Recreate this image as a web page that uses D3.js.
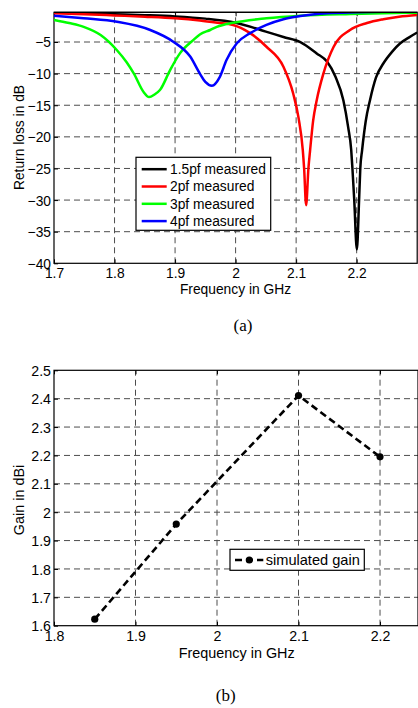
<!DOCTYPE html>
<html>
<head>
<meta charset="utf-8">
<script src="https://cdn.jsdelivr.net/npm/d3@7"></script>
<style>
  html, body { margin: 0; padding: 0; background: #fff; }
  svg { display: block; }
  text { font-family: "Liberation Sans", Arial, sans-serif; fill: #000; }
  .cap { font-family: "Liberation Serif", "Times New Roman", serif; }
</style>
</head>
<body>
<svg id="fig" width="418" height="708"></svg>
<script>
// ---------- (a) return loss vs frequency ----------
const rlTicksX = [1.7, 1.8, 1.9, 2.0, 2.1, 2.2];
const rlTicksY = [-40, -35, -30, -25, -20, -15, -10, -5];

const f15 = [1.70, 1.75, 1.80, 1.85, 1.90, 1.95, 2.00, 2.05, 2.079, 2.107, 2.134, 2.151, 2.165, 2.178, 2.186, 2.191, 2.193, 2.196, 2.2003, 2.204, 2.206, 2.209, 2.215, 2.222, 2.232, 2.244, 2.258, 2.272, 2.286, 2.30];
const rl15 = [-0.3, -0.45, -0.6, -0.75, -0.95, -1.3, -1.95, -3.35, -4.2, -5.0, -6.8, -8.1, -10.5, -14.2, -18.5, -22.1, -25.0, -30.0, -37.8, -30.0, -25.0, -22.1, -17.5, -14.2, -10.6, -8.4, -6.6, -5.2, -4.3, -3.5];

const f2 = [1.70, 1.75, 1.80, 1.85, 1.90, 1.941, 1.97, 1.996, 2.024, 2.051, 2.079, 2.095, 2.104, 2.111, 2.1132, 2.1165, 2.1203, 2.1231, 2.128, 2.134, 2.145, 2.162, 2.189, 2.217, 2.244, 2.27, 2.30];
const rl2 = [-0.45, -0.6, -0.8, -1.0, -1.25, -1.6, -1.95, -2.3, -3.6, -5.75, -8.9, -13.1, -17.0, -22.1, -25.0, -30.8, -25.0, -22.1, -17.5, -14.2, -10.0, -5.75, -3.1, -2.0, -1.4, -1.0, -0.73];

const f3 = [1.70, 1.725, 1.749, 1.777, 1.804, 1.82, 1.832, 1.848, 1.857, 1.866, 1.875, 1.892, 1.908, 1.930, 1.941, 1.958, 1.969, 1.996, 2.051, 2.107, 2.19, 2.30];
const rl3 = [-1.5, -2.0, -2.6, -3.9, -6.3, -8.2, -10.0, -12.9, -13.7, -13.3, -12.6, -9.4, -6.8, -4.7, -3.8, -3.1, -2.6, -1.95, -1.25, -0.84, -0.57, -0.36];

const f4 = [1.70, 1.749, 1.804, 1.859, 1.897, 1.925, 1.941, 1.95, 1.961, 1.974, 1.985, 2.002, 2.024, 2.051, 2.079, 2.107, 2.151, 2.20, 2.25, 2.30];
const rl4 = [-0.84, -1.25, -1.8, -3.1, -4.95, -7.3, -10.0, -11.3, -11.9, -10.5, -7.85, -5.2, -3.6, -2.3, -1.4, -0.9, -0.46, -0.3, -0.2, -0.15];

const rlNames = ["1.5pf measured", "2pf measured", "3pf measured", "4pf measured"];
const rlColors = ["#000000", "#ff0000", "#00ff00", "#0000ff"];

// ---------- (b) gain vs frequency ----------
const gainTicksX = [1.8, 1.9, 2.0, 2.1, 2.2];
const gainTicksY = [1.6, 1.7, 1.8, 1.9, 2.0, 2.1, 2.2, 2.3, 2.4, 2.5];
const gainFreq = [1.85, 1.95, 2.10, 2.20];
const gainVal = [1.623, 1.958, 2.411, 2.195];
const gainName = "simulated gain";

const svg = d3.select("#fig");
const fmt = d => d3.format("")(+d.toFixed(2));

function frame(g, x, y, xt, yt, fs) {
  const [x0, x1] = x.range();
  const [y0, y1] = y.range();
  const clipW = Math.min(x1, 418) - x0;
  // grid
  const grid = g.append("g").attr("stroke", "#4d4d4d").attr("stroke-width", 1).attr("stroke-dasharray", "6,4");
  xt.filter(v => x(v) > x0 + 1 && x(v) < x1 - 1).forEach(v =>
    grid.append("line").attr("x1", x(v)).attr("x2", x(v)).attr("y1", y0).attr("y2", y1));
  yt.filter(v => y(v) < y0 - 1 && y(v) > y1 + 1).forEach(v =>
    grid.append("line").attr("x1", x0).attr("x2", x1).attr("y1", y(v)).attr("y2", y(v)));

  // axes with inward ticks
  const ax = g.append("g").attr("transform", `translate(0,${y0})`)
    .call(d3.axisBottom(x).tickValues(xt).tickSize(-4).tickPadding(5).tickFormat(fmt));
  const ay = g.append("g").attr("transform", `translate(${x0},0)`)
    .call(d3.axisLeft(y).tickValues(yt).tickSize(-4).tickPadding(3).tickFormat(fmt));
  g.append("g").attr("transform", `translate(0,${y1})`)
    .call(d3.axisTop(x).tickValues(xt).tickSize(-4).tickFormat(""));
  [ax, ay].forEach(a => {
    a.select(".domain").remove();
    a.selectAll("line").attr("stroke", "#000");
    a.selectAll("text").style("font-size", fs + "px").attr("fill", "#000");
  });
  g.selectAll(".domain").remove();
  ax.selectAll("text").attr("dy", "0.72em");
  ay.selectAll("text").attr("dy", "0.36em");

  // box
  g.append("rect").attr("x", x0).attr("y", y1).attr("width", x1 - x0).attr("height", y0 - y1)
    .attr("fill", "none").attr("stroke", "#000").attr("stroke-width", 1.2);
  return clipW;
}

// ===== panel (a) =====
{
  const x = d3.scaleLinear().domain([1.7, 2.3]).range([54, 417.2]);
  const y = d3.scaleLinear().domain([-40, -0.3]).range([263.3, 12.3]);
  const g = svg.append("g");
  g.append("clipPath").attr("id", "clipA").append("rect")
    .attr("x", 54).attr("y", 12.3).attr("width", 363.2).attr("height", 251);

  frame(g, x, y, rlTicksX, rlTicksY, 13.8);

  const series = [[f15, rl15], [f2, rl2], [f3, rl3], [f4, rl4]];
  const line = d3.line().x(d => x(d[0])).y(d => y(d[1])).curve(d3.curveMonotoneX);
  const curves = g.append("g").attr("clip-path", "url(#clipA)");
  series.forEach(([fx, vy], i) => {
    curves.append("path").datum(d3.zip(fx, vy))
      .attr("d", line).attr("fill", "none")
      .attr("stroke", rlColors[i]).attr("stroke-width", 2.5).attr("stroke-linejoin", "round");
  });
  // redraw top edge over curves
  g.append("line").attr("x1", 54).attr("x2", 417.2).attr("y1", 12.3).attr("y2", 12.3)
    .attr("stroke", "#000").attr("stroke-width", 1.2);

  // legend
  const lg = g.append("g");
  lg.append("rect").attr("x", 136).attr("y", 157.3).attr("width", 134.7).attr("height", 73)
    .attr("fill", "#fff").attr("stroke", "#000").attr("stroke-width", 1.2);
  rlNames.forEach((n, i) => {
    const yy = 169.2 + i * 17.3;
    lg.append("line").attr("x1", 141.7).attr("x2", 166.7).attr("y1", yy).attr("y2", yy)
      .attr("stroke", rlColors[i]).attr("stroke-width", 2.5);
    lg.append("text").attr("x", 170).attr("y", yy).attr("dy", "0.36em")
      .style("font-size", "13.8px").text(n);
  });

  g.append("text").attr("x", 235.5).attr("y", 293.5).attr("text-anchor", "middle")
    .style("font-size", "13.8px").text("Frequency in GHz");
  g.append("text").attr("transform", "translate(24,137.5) rotate(-90)").attr("text-anchor", "middle")
    .style("font-size", "13.8px").text("Return loss in dB");
  g.append("text").attr("class", "cap").attr("x", 243).attr("y", 331).attr("text-anchor", "middle")
    .style("font-size", "17px").text("(a)");
}

// ===== panel (b) =====
{
  const x = d3.scaleLinear().domain([1.8, 2.2466]).range([54, 418]);
  const y = d3.scaleLinear().domain([1.6, 2.5]).range([625.7, 370.3]);
  const g = svg.append("g");
  frame(g, x, y, gainTicksX, gainTicksY, 14.2);

  const pts = d3.zip(gainFreq, gainVal);
  g.append("path").datum(pts)
    .attr("d", d3.line().x(d => x(d[0])).y(d => y(d[1])))
    .attr("fill", "none").attr("stroke", "#000").attr("stroke-width", 2.6)
    .attr("stroke-dasharray", "7,4");
  g.selectAll("circle.pt").data(pts).join("circle").attr("class", "pt")
    .attr("cx", d => x(d[0])).attr("cy", d => y(d[1])).attr("r", 3.6).attr("fill", "#000");

  const lg = g.append("g");
  lg.append("rect").attr("x", 230).attr("y", 549.3).attr("width", 134.3).attr("height", 21)
    .attr("fill", "#fff").attr("stroke", "#000").attr("stroke-width", 1.2);
  lg.append("line").attr("x1", 235).attr("x2", 263.3).attr("y1", 560).attr("y2", 560)
    .attr("stroke", "#000").attr("stroke-width", 2.6).attr("stroke-dasharray", "7,4");
  lg.append("circle").attr("cx", 249.3).attr("cy", 560).attr("r", 3.6).attr("fill", "#000");
  lg.append("text").attr("x", 265.7).attr("y", 560).attr("dy", "0.36em")
    .style("font-size", "14.6px").text(gainName);

  g.append("text").attr("x", 236.7).attr("y", 657.5).attr("text-anchor", "middle")
    .style("font-size", "14.4px").text("Frequency in GHz");
  g.append("text").attr("transform", "translate(24,500) rotate(-90)").attr("text-anchor", "middle")
    .style("font-size", "14.4px").text("Gain in dBi");
  g.append("text").attr("class", "cap").attr("x", 225.7).attr("y", 701).attr("text-anchor", "middle")
    .style("font-size", "17px").text("(b)");
}
</script>
</body>
</html>
